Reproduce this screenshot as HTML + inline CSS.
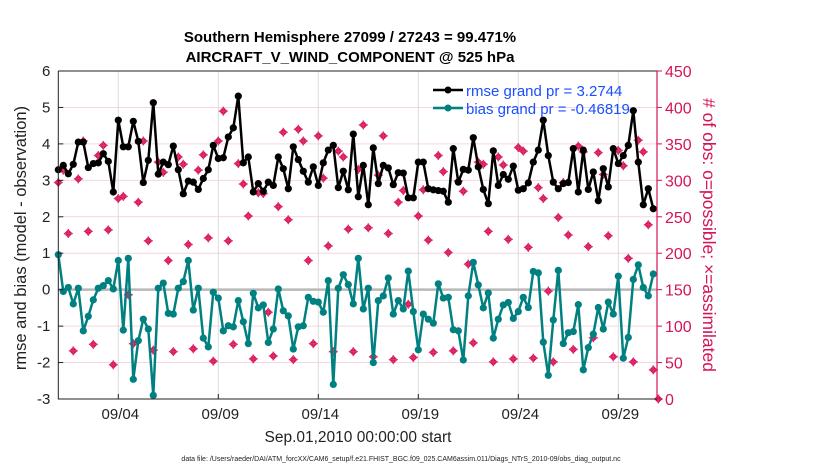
<!DOCTYPE html>
<html><head><meta charset="utf-8"><style>
html,body{margin:0;padding:0;background:#fff;}
svg{display:block;font-family:"Liberation Sans",Arial,sans-serif;}
</style></head><body>
<svg id="chart" width="830" height="470" viewBox="0 0 830 470">
<g id="grid"></g>
<g id="marks"></g>
<g id="axes"></g>
<text x="350" y="42" text-anchor="middle" font-size="15" font-weight="bold">Southern Hemisphere 27099 / 27243 = 99.471%</text>
<text x="350" y="62" text-anchor="middle" font-size="15" font-weight="bold">AIRCRAFT_V_WIND_COMPONENT @ 525 hPa</text>
<text transform="translate(26,238) rotate(-90)" text-anchor="middle" font-size="16.5" fill="#222">rmse and bias (model - observation)</text>
<text transform="translate(703,235) rotate(90)" text-anchor="middle" font-size="17.5" fill="#d4145a"># of obs: o=possible; ×=assimilated</text>
<text x="358" y="442" text-anchor="middle" font-size="15.5" fill="#222">Sep.01,2010 00:00:00 start</text>
<text x="401" y="461" text-anchor="middle" font-size="7" fill="#222">data file: /Users/raeder/DAI/ATM_forcXX/CAM6_setup/f.e21.FHIST_BGC.f09_025.CAM6assim.011/Diags_NTrS_2010-09/obs_diag_output.nc</text>
<g>
<line x1="433" y1="90" x2="463" y2="90" stroke="#000" stroke-width="2.5"/>
<circle cx="448" cy="90" r="3.5" fill="#000"/>
<text x="466" y="96" font-size="15" fill="#1a4fff">rmse grand pr = 3.2744</text>
<line x1="433" y1="108" x2="463" y2="108" stroke="#008080" stroke-width="2.5"/>
<circle cx="448" cy="108" r="3.5" fill="#008080"/>
<text x="466" y="114" font-size="15" fill="#1a4fff">bias grand pr = -0.46819</text>
</g>
</svg>
<script>
const leftTicks = [6,5,4,3,2,1,0,-1,-2,-3];
const rightTicks = [450,400,350,300,250,200,150,100,50,0];
const dateTicks = [4,9,14,19,24,29];
const dateLabels = ["09/04","09/09","09/14","09/19","09/24","09/29"];
const rmse = [3.29,3.41,3.18,3.44,4.05,4.05,3.35,3.46,3.48,3.73,3.52,2.68,4.65,3.92,3.92,4.62,4.07,2.94,3.55,5.13,3.17,3.50,3.43,3.94,3.29,2.63,2.98,2.95,2.75,3.05,
3.29,3.96,3.60,3.62,4.19,4.44,5.31,3.48,3.64,2.68,2.91,2.70,2.95,2.86,3.64,3.32,2.77,3.92,3.57,3.25,2.95,3.37,2.86,3.48,3.83,3.96,2.80,3.25,2.74,4.27,
2.55,3.41,2.33,3.89,2.91,3.41,3.34,2.88,3.21,3.20,2.52,2.52,3.50,3.50,2.77,2.74,2.72,2.70,2.40,3.87,2.95,3.30,3.28,4.17,3.37,2.75,2.36,3.81,2.86,3.16,
3.03,3.39,2.73,2.77,2.93,3.50,3.83,4.65,3.68,2.95,2.77,2.91,2.94,3.87,2.68,3.83,2.75,3.23,2.44,3.32,2.82,3.87,3.46,3.68,3.96,4.91,3.50,2.33,2.77,2.22];
const bias = [0.96,-0.05,0.06,-0.39,0.04,-1.13,-0.73,-0.28,0.04,0.11,0.25,0.02,0.80,-1.11,0.86,-2.46,-1.40,-0.81,-1.08,-2.90,0.04,0.18,-0.65,-0.67,0.04,0.22,0.80,-0.56,0.04,-1.33,
-1.57,-0.07,-0.23,-1.13,-0.99,-1.02,-0.30,-0.88,-1.48,-0.10,-0.50,-0.42,-1.45,-1.08,0.02,-0.58,-0.72,-1.63,-1.02,-0.99,-0.21,-0.32,-0.34,-0.62,0.25,-2.60,0.04,0.41,0.14,-0.39,
0.86,-0.53,0.04,-2.00,-0.30,-0.17,0.32,-0.67,-0.30,-0.53,0.51,-0.60,-1.65,-0.67,-0.81,-0.92,0.16,-0.23,-0.21,-1.10,-1.13,-1.93,-0.17,0.75,0.13,-0.50,-0.09,-1.33,-0.81,-0.42,
-0.35,-0.79,-0.60,-0.21,-0.49,0.50,0.46,-1.44,-2.35,-0.83,0.53,-1.48,-1.18,-1.15,-0.41,-2.20,-1.59,-1.22,-0.49,-1.08,-0.34,-0.67,0.37,-1.88,-1.31,0.28,0.68,0.06,-0.17,0.43];
const obsCount = [297,314,227,66,302,354,230,75,334,348,232,47,275,278,143,76,270,354,217,67,325,311,190,65,332,322,212,69,314,335,
221,52,354,395,217,75,323,295,251,55,283,282,119,59,264,366,246,54,370,354,190,76,361,303,210,65,340,332,233,65,
315,376,235,58,307,361,227,54,270,286,130,57,251,287,218,64,334,312,201,66,299,285,185,77,325,322,230,51,332,321,
219,55,345,340,208,56,290,275,148,51,249,297,225,68,347,339,209,84,338,308,224,58,341,320,193,51,355,339,239,40,0];

const NS="http://www.w3.org/2000/svg";
const L=58.3,R=657,T=71,B=399;
function xDay(d){return L+(d-1)*20;}
function yLeft(v){return T+(6-v)*(B-T)/9;}
function yRight(v){return B-v*(B-T)/450;}
function mk(tag,attrs,parent){const e=document.createElementNS(NS,tag);for(const k in attrs)e.setAttribute(k,attrs[k]);parent.appendChild(e);return e;}
const grid=document.getElementById('grid'),marks=document.getElementById('marks'),axes=document.getElementById('axes');

leftTicks.forEach(v=>{
  const g=mk('line',{x1:L,x2:R,y1:yLeft(v),y2:yLeft(v),stroke:'#f3d6e1','stroke-width':1},grid);
  
  
  const t=mk('text',{x:L-8,y:yLeft(v)+5,'text-anchor':'end','font-size':15,fill:'#222'},axes);
  t.textContent=v;
  
  
});
dateTicks.forEach((d,i)=>{
  const g=mk('line',{x1:xDay(d),x2:xDay(d),y1:T,y2:B,stroke:'#dcdcdc','stroke-width':1},grid);
  
  
  mk('line',{x1:xDay(d),x2:xDay(d),y1:B,y2:B-5,stroke:'#222'},axes);
  const t=mk('text',{x:xDay(d)+2,y:419,'text-anchor':'middle','font-size':15,fill:'#222'},axes);
  t.textContent=dateLabels[i];
  
  
});
rightTicks.forEach(v=>{
  mk('line',{x1:R,x2:R+5,y1:yRight(v),y2:yRight(v),stroke:'#d4145a'},axes);
  const t=mk('text',{x:R+8,y:yRight(v)+6,'font-size':16,fill:'#d4145a'},axes);
  t.textContent=v;
  
  
});
const zl=mk('line',{x1:L,x2:R,y1:yLeft(0),y2:yLeft(0),stroke:'#b8b8b8','stroke-width':2.5},grid);



obsCount.forEach((v,i)=>{
  const x=xDay(1+i*0.25),y=yRight(v);
  const g=mk('g',{},marks);
  
  
  mk('rect',{x:x-3,y:y-3,width:6,height:6,fill:'#d4145a',transform:`rotate(45 ${x} ${y})`},g);
  mk('path',{d:`M${x-4.5},${y}H${x+4.5}M${x},${y-4.5}V${y+4.5}`,stroke:'#e0306e','stroke-width':1.3},g);
});
function series(arr,color,name){
  const pts=arr.map((v,i)=>xDay(1+i*0.25).toFixed(1)+','+yLeft(v).toFixed(1)).join(' ');
  const pl=mk('polyline',{points:pts,fill:'none',stroke:color,'stroke-width':2.5,'stroke-linejoin':'round'},marks);
  
  
  arr.forEach((v,i)=>{
    const c=mk('circle',{cx:xDay(1+i*0.25),cy:yLeft(v),r:3.6,fill:color},marks);
    
    
  });
}
series(bias,'#008080','bias');
series(rmse,'#000000','rmse');

mk('path',{d:`M${L},${T}H${R}M${L},${T}V${B}H${R}`,fill:'none',stroke:'#222','stroke-width':1},axes);
const ra=mk('line',{x1:R,x2:R,y1:T,y2:B,stroke:'#d4145a','stroke-width':1.2},axes);


leftTicks.forEach(v=>{mk('line',{x1:L,x2:L+5,y1:yLeft(v),y2:yLeft(v),stroke:'#222'},axes);});
</script>
</body></html>
